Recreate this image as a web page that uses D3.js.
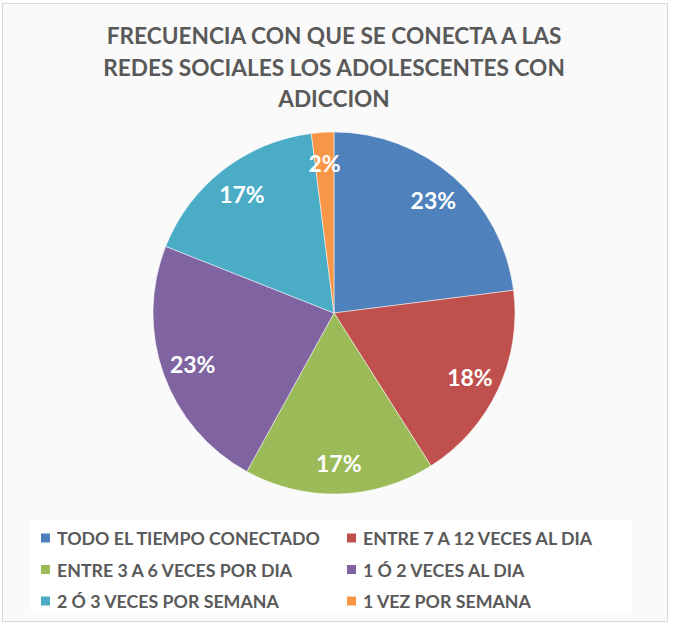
<!DOCTYPE html>
<html>
<head>
<meta charset="utf-8">
<script src="https://cdn.jsdelivr.net/npm/d3@7"></script>
<style>
  body { margin: 0; background: #fff; }
  svg text { font-family: Lato, "Open Sans", sans-serif; }
</style>
</head>
<body>
<div id="chart"></div>
<script>
const titleLines = ["FRECUENCIA CON QUE SE CONECTA A LAS", "REDES SOCIALES LOS ADOLESCENTES CON", "ADICCION"];
const categories = ["TODO EL TIEMPO CONECTADO", "ENTRE 7 A 12 VECES AL DIA", "ENTRE 3 A 6 VECES POR DIA",
  "1 Ó 2 VECES AL DIA", "2 Ó 3 VECES POR SEMANA", "1 VEZ POR SEMANA"];
const values = [23, 18, 17, 23, 17, 2];
const colors = ["#4F81BD", "#C0504D", "#9BBB59", "#8064A2", "#4BACC6", "#F79646"];

const W = 675, H = 628;
const cx = 334, cy = 313, radius = 181;

const svg = d3.select("#chart").append("svg")
  .attr("width", W)
  .attr("height", H);

// chart area background + border
svg.append("rect")
  .attr("x", 2.5).attr("y", 3.5)
  .attr("width", 665).attr("height", 618)
  .attr("fill", "#fafafa")
  .attr("stroke", "#d9d9d9");

// scale a text group so its widest line matches the target width
function fitGroup(sel, target, base) {
  let maxW = 0;
  sel.each(function () { maxW = Math.max(maxW, this.getComputedTextLength()); });
  if (maxW > 0) sel.style("font-size", (base * target / maxW).toFixed(2) + "px");
}

const title = svg.append("g")
  .selectAll("text")
  .data(titleLines)
  .join("text")
  .attr("x", cx)
  .attr("y", (d, i) => 44 + i * 31.5)
  .attr("text-anchor", "middle")
  .style("font-size", "20px")
  .style("font-weight", "700")
  .style("fill", "#595959")
  .text(d => d);
fitGroup(title, 462, 20);

const pie = d3.pie().sort(null).value(d => d);
const arc = d3.arc().innerRadius(0).outerRadius(radius);
const labelArc = d3.arc().innerRadius(radius * 0.83).outerRadius(radius * 0.83);

const g = svg.append("g").attr("transform", `translate(${cx},${cy})`);
const arcs = pie(values);

g.selectAll("path")
  .data(arcs)
  .join("path")
  .attr("d", arc)
  .attr("fill", (d, i) => colors[i])
  .attr("stroke", "#fff")
  .attr("stroke-width", 0.5);

g.selectAll("text")
  .data(arcs)
  .join("text")
  .attr("transform", d => `translate(${labelArc.centroid(d)})`)
  .attr("text-anchor", "middle")
  .attr("dominant-baseline", "central")
  .style("font-size", "23px")
  .style("font-weight", "700")
  .style("fill", "#fff")
  .text(d => d.data + "%");

// legend
svg.append("rect")
  .attr("x", 30).attr("y", 520)
  .attr("width", 602).attr("height", 92)
  .attr("fill", "#fff");

const legend = svg.append("g")
  .selectAll("g")
  .data(categories)
  .join("g")
  .attr("transform", (d, i) => `translate(${i % 2 === 0 ? 41 : 347},${538 + Math.floor(i / 2) * 31.5})`);

legend.append("rect")
  .attr("x", 0).attr("y", -4.5)
  .attr("width", 9).attr("height", 9)
  .attr("fill", (d, i) => colors[i]);

const legendText = legend.append("text")
  .attr("x", 16)
  .attr("dominant-baseline", "central")
  .style("font-size", "16px")
  .style("font-weight", "700")
  .style("fill", "#595959")
  .text(d => d);
fitGroup(legendText, 263, 16);
</script>
</body>
</html>
